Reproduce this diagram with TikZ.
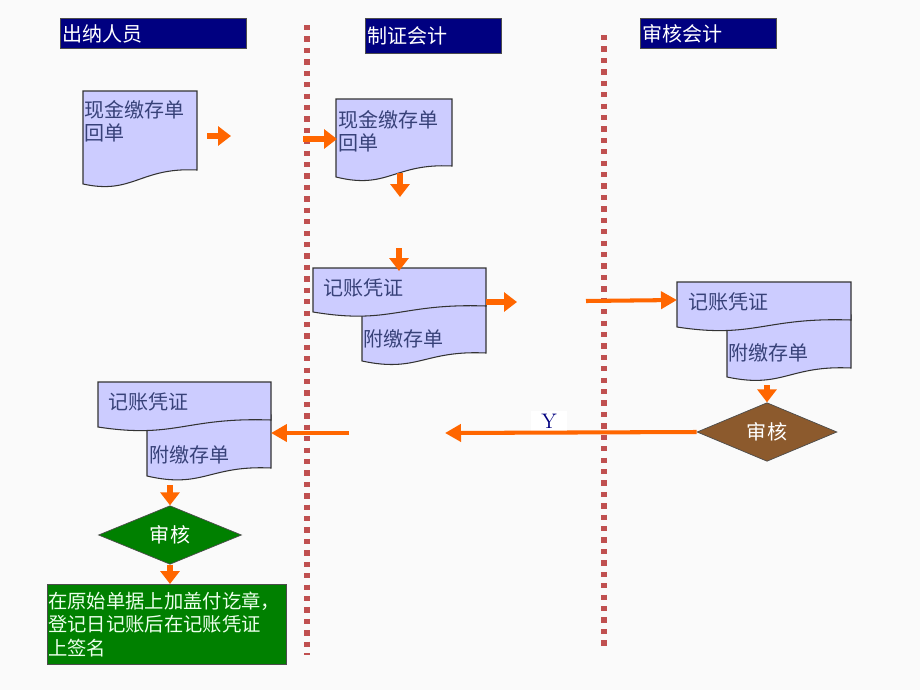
\documentclass[tikz,border=0pt]{standalone}
\usepackage{fontspec}
\newfontfamily\cjk{Noto Sans CJK SC}
\usetikzlibrary{arrows.meta,positioning,shapes.geometric}
\definecolor{navy}{RGB}{0,0,128}
\definecolor{lanered}{RGB}{192,80,80}
\definecolor{paperfill}{RGB}{204,204,255}
\definecolor{papertext}{RGB}{55,65,120}
\definecolor{flow}{RGB}{255,102,0}
\definecolor{okgreen}{RGB}{0,128,0}
\definecolor{checkbrown}{RGB}{140,90,45}
\definecolor{paleback}{RGB}{250,250,250}

\begin{document}
\begin{tikzpicture}
[x=0.02cm,y=-0.02cm,
lane/.style={draw=lanered,line width=3.4pt,dash pattern=on 3pt off 3.5pt},
title/.style={draw=black!70,fill=navy,text=white,anchor=north west,
font=\cjk\fontsize{11.4}{13}\selectfont,align=left,inner xsep=1pt,minimum height=0.6cm},
paper/.style={draw=black!80,fill=paperfill,line width=0.6pt},
doctext/.style={anchor=west,text=papertext,font=\cjk\fontsize{11.4}{13}\selectfont,
align=left,inner sep=0pt},
flow/.style={draw=flow,line width=2.3pt,-{Triangle[length=0.32cm,width=0.34cm]}},
stub/.style={draw=flow,line width=3.5pt,-{Triangle[length=0.26cm,width=0.38cm]}},
check/.style={diamond,draw=black!70,text=white,font=\cjk\fontsize{11.4}{13}\selectfont,
minimum width=2.8cm,minimum height=0.96cm,inner sep=0pt}]

\fill[paleback] (0,0) rectangle (920,690);
\useasboundingbox (0,0) rectangle (920,690);

% lanes
\node[title,text width=3.66cm] (cashier) at (60,18) {出纳人员};
\node[title,text width=2.65cm,minimum height=0.7cm] (maker) at (365,18) {制证会计\\[0.8ex]};
\node[title,text width=2.65cm] (auditor) at (640,18) {审核会计};
\draw[lane] (307,25) -- (307,655);
\draw[lane] (604,35) -- (604,650);

% slips
\draw[paper] (83,91) -- (197,91) -- (197,170) .. controls (140,167) and (133,195) .. (83,184) -- cycle;
\node[doctext] (cashslip) at (84,121.5) {现金缴存单\\回单};
\draw[paper] (336,99) -- (452,99) -- (452,166) .. controls (394,163) and (388,190) .. (336,177) -- cycle;
\node[doctext] (cashcopy) at (338,131) {现金缴存单\\回单};

% vouchers
\draw[paper] (362,300) -- (486,300) -- (486,353) .. controls (424,350) and (418,373) .. (362,361) -- cycle;
\draw[paper] (313,268) -- (486,268) -- (486,306) .. controls (400,303) and (391,325) .. (313,312) -- cycle;
\node[doctext] (voucherA) at (323,288) {记账凭证};
\node[doctext] (attachA) at (363,339) {附缴存单};

\draw[paper] (727,315) -- (851,315) -- (851,368) .. controls (789,365) and (783,389) .. (727,377) -- cycle;
\draw[paper] (677,282) -- (851,282) -- (851,320) .. controls (764,317) and (755,339) .. (677,327) -- cycle;
\node[doctext] (voucherB) at (688,302) {记账凭证};
\node[doctext] (attachB) at (728,353) {附缴存单};

\draw[paper] (147,415) -- (271,415) -- (271,468) .. controls (209,465) and (203,489) .. (147,476) -- cycle;
\draw[paper] (98,382) -- (271,382) -- (271,420) .. controls (185,417) and (176,439) .. (98,427) -- cycle;
\node[doctext] (voucherC) at (108,402) {记账凭证};
\node[doctext] (attachC) at (149,455) {附缴存单};

% checks
\node[check,fill=checkbrown] (auditB) at (767,432) {审核};
\node[check,fill=okgreen,minimum width=2.86cm] (auditA) at (170,535) {审核};
\node[draw=black!70,fill=okgreen,text=green!8,anchor=north west,align=left,
font=\cjk\fontsize{11}{13.2}\selectfont,text width=4.74cm,inner xsep=0.5pt,
minimum height=1.6cm] (stamp) at (47,584) {在原始单据上加盖付讫章，\\登记日记账后在记账凭证\\上签名};
\node[fill=white,text=navy,font=\fontsize{12}{14}\selectfont,inner ysep=1.5pt,inner xsep=6pt] (yes) at (549,421) {Y};

% arrows
\coordinate (a1) at (207,136); \coordinate (a1e) at (231,136);
\coordinate (a2) at (303,139); \coordinate (a2e) at (337,139);
\coordinate (a3) at (400,173); \coordinate (a3e) at (400,197);
\coordinate (a4) at (399,248); \coordinate (a4e) at (399,271);
\coordinate (a5) at (486,302); \coordinate (a5e) at (517,302);
\coordinate (a6) at (586,301); \coordinate (a6e) at (677,300);
\coordinate (a7) at (767,385);
\coordinate (a8e) at (445,433);
\coordinate (a9) at (349,433); \coordinate (a9e) at (271,433);
\coordinate (a10) at (170,485);
\draw[stub] (a1) -- (a1e);
\draw[stub] (a2) -- (a2e);
\draw[stub] (a3) -- (a3e);
\draw[stub] (a4) -- (a4e);
\draw[stub] (a5) -- (a5e);
\draw[flow] (a6) -- (a6e);
\draw[stub] (a7) -- (auditB.north);
\draw[flow] (auditB.west) -- (a8e);
\draw[flow] (a9) -- (a9e);
\draw[stub] (a10) -- (auditA.north);
\draw[stub] (auditA.south) -- (auditA.south |- stamp.north);
\end{tikzpicture}
\end{document}
